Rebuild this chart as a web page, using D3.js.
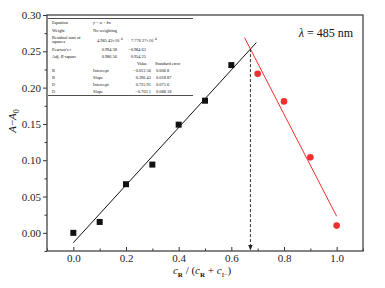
<!DOCTYPE html>
<html>
<head>
<meta charset="utf-8" />
<title>Job plot</title>
<script src="https://d3js.org/d3.v7.min.js"></script>
<style>
  body { margin: 0; background: #fff; }
  svg, svg text { font-family: "Liberation Serif", "Times New Roman", serif; }
</style>
</head>
<body>
<svg></svg>
<script>
// data
const xB = [0, 0.1, 0.2, 0.3, 0.4, 0.5, 0.6];
const yB = [0.0, 0.015, 0.067, 0.094, 0.149, 0.182, 0.231];
const xD = [0.7, 0.8, 0.9, 1.0];
const yD = [0.219, 0.181, 0.104, 0.01];
const fitB = [-0.01356, 0.39643];   // intercept, slope
const fitD = [0.72591, -0.7031];
const xTicks = [0, 0.2, 0.4, 0.6, 0.8, 1.0];
const yTicks = [0, 0.05, 0.10, 0.15, 0.20, 0.25, 0.30];

const W = 385, H = 288;
const pL = 47, pR = 363, pT = 15, pB = 251;

const svg = d3.select("svg").attr("width", W).attr("height", H);

const x = d3.scaleLinear().domain([-0.1, 1.1]).range([pL, pR]);
const y = d3.scaleLinear().domain([-0.025, 0.30]).range([pB, pT]);

// axes
const yAx = svg.append("g").attr("transform", `translate(${pL},0)`)
  .call(d3.axisLeft(y).tickValues(yTicks).tickFormat(d3.format(".2f")).tickSize(4).tickPadding(2));
const yMinor = svg.append("g").attr("transform", `translate(${pL},0)`)
  .call(d3.axisLeft(y).tickValues(d3.range(-0.025, 0.30, 0.05)).tickFormat("").tickSize(2.5));
const xAx = svg.append("g").attr("transform", `translate(0,${pB})`)
  .call(d3.axisBottom(x).tickValues(xTicks).tickFormat(d3.format(".1f")).tickSize(-4).tickPadding(3));
const xMinor = svg.append("g").attr("transform", `translate(0,${pB})`)
  .call(d3.axisBottom(x).tickValues(d3.range(-0.1, 1.1, 0.2)).tickFormat("").tickSize(-2.5));

[yAx, yMinor, xAx, xMinor].forEach(g => {
  g.attr("font-family", null).attr("font-size", null);
  g.select(".domain").remove();
  g.selectAll("line").attr("stroke", "#333");
  g.selectAll("text").attr("font-size", 11).attr("fill", "#222");
});

// frame
svg.append("rect").attr("x", pL).attr("y", pT)
  .attr("width", pR - pL).attr("height", pB - pT)
  .attr("fill", "none").attr("stroke", "#444").attr("stroke-width", 1.3);

// fit lines
const lineFn = d3.line().x(d => x(d[0])).y(d => y(d[1]));
svg.append("path")
  .datum([0, 0.695].map(v => [v, fitB[0] + fitB[1] * v]))
  .attr("d", lineFn).attr("stroke", "#111").attr("stroke-width", 1).attr("fill", "none");
svg.append("path")
  .datum([0.65, 1.0].map(v => [v, fitD[0] + fitD[1] * v]))
  .attr("d", lineFn).attr("stroke", "#f0302e").attr("stroke-width", 1).attr("fill", "none");

// intersection marker (dashed drop line with arrow)
const xi = (fitD[0] - fitB[0]) / (fitB[1] - fitD[1]);
const yi = fitB[0] + fitB[1] * xi;
svg.append("line")
  .attr("x1", x(xi)).attr("x2", x(xi)).attr("y1", y(yi)).attr("y2", pB - 5)
  .attr("stroke", "#333").attr("stroke-width", 1).attr("stroke-dasharray", "3,2");
svg.append("path")
  .attr("d", `M${x(xi) - 2.2},${pB - 6}L${x(xi) + 2.2},${pB - 6}L${x(xi)},${pB - 0.5}Z`)
  .attr("fill", "#222");

// markers
svg.selectAll("rect.b").data(xB).enter().append("rect").attr("class", "b")
  .attr("x", (d) => x(d) - 3).attr("y", (d, i) => y(yB[i]) - 3)
  .attr("width", 6).attr("height", 6).attr("fill", "#111");
svg.selectAll("circle.d").data(xD).enter().append("circle").attr("class", "d")
  .attr("cx", d => x(d)).attr("cy", (d, i) => y(yD[i]))
  .attr("r", 3.3).attr("fill", "#f0302e");

// lambda label
const lam = svg.append("text").attr("x", 353).attr("y", 37)
  .attr("text-anchor", "end").attr("font-size", 12).attr("fill", "#111");
lam.append("tspan").attr("font-style", "italic").text("λ");
lam.append("tspan").text(" = 485 nm");

// axis titles
const yl = svg.append("text")
  .attr("transform", `translate(16,121) rotate(-90)`)
  .attr("text-anchor", "middle").attr("font-size", 11).attr("fill", "#111");
yl.append("tspan").attr("font-style", "italic").text("A");
yl.append("tspan").text("−");
yl.append("tspan").attr("font-style", "italic").text("A");
yl.append("tspan").attr("font-size", 8).attr("dy", 3).text("0");

const xl = svg.append("text").attr("x", 202).attr("y", 274)
  .attr("text-anchor", "middle").attr("font-size", 11).attr("fill", "#111");
xl.append("tspan").attr("font-style", "italic").text("c");
xl.append("tspan").attr("font-size", 7).attr("font-weight", "bold").attr("dy", 2.5).text("R");
xl.append("tspan").attr("dy", -2.5).text(" / (");
xl.append("tspan").attr("font-style", "italic").text("c");
xl.append("tspan").attr("font-size", 7).attr("font-weight", "bold").attr("dy", 2.5).text("R");
xl.append("tspan").attr("dy", -2.5).text(" + ");
xl.append("tspan").attr("font-style", "italic").text("c");
xl.append("tspan").attr("font-size", 7).attr("dy", 2.5).text("I");
xl.append("tspan").attr("font-size", 6).attr("dy", -1).text("−");
xl.append("tspan").attr("dy", -1.5).text(")");

// fit result table
const tbl = svg.append("g").attr("font-size", 4.4).attr("fill", "#111");
tbl.append("line").attr("x1", 48).attr("x2", 193).attr("y1", 18.5).attr("y2", 18.5)
  .attr("stroke", "#222").attr("stroke-width", 0.8);
tbl.append("line").attr("x1", 48).attr("x2", 193).attr("y1", 95.5).attr("y2", 95.5)
  .attr("stroke", "#222").attr("stroke-width", 0.8);

function cell(tx, ty, s, anchor) {
  return tbl.append("text").attr("x", tx).attr("y", ty)
    .attr("text-anchor", anchor || "start").text(s);
}
cell(52, 24, "Equation");
const eq = tbl.append("text").attr("x", 93).attr("y", 24);
eq.append("tspan").attr("font-style", "italic").text("y");
eq.append("tspan").text(" = ");
eq.append("tspan").attr("font-style", "italic").text("a");
eq.append("tspan").text(" + ");
eq.append("tspan").attr("font-style", "italic").text("bx");
cell(52, 31.5, "Weight");
cell(93, 31.5, "No weighting");
cell(52, 38.5, "Residual sum of");
cell(52, 42.8, "squares");
function sci(tx, ty, m) {
  const t = tbl.append("text").attr("x", tx).attr("y", ty);
  t.append("tspan").text(m + "×10");
  t.append("tspan").attr("font-size", 3.2).attr("dy", -1.8).text("−4");
}
sci(97, 41.5, "4.985 43");
sci(131, 41.5, "7.776 27");
const pr = tbl.append("text").attr("x", 52).attr("y", 50.5);
pr.append("tspan").text("Pearson's ");
pr.append("tspan").attr("font-style", "italic").text("r");
cell(117, 50.5, "0.994 38", "end");
cell(146, 50.5, "−0.984 63", "end");
const ar = tbl.append("text").attr("x", 52).attr("y", 57.5);
ar.append("tspan").text("Adj. ");
ar.append("tspan").attr("font-style", "italic").text("R");
ar.append("tspan").text("-square");
cell(117, 57.5, "0.986 56", "end");
cell(146, 57.5, "0.954 25", "end");
cell(137, 64.5, "Value");
cell(155, 64.5, "Standard error");

const series = ["B", "B", "D", "D"];
const params = ["Intercept", "Slope", "Intercept", "Slope"];
const values = ["−0.013 56", "0.396 43", "0.725 91", "−0.703 1"];
const errors = ["0.006 8", "0.018 87", "0.075 6", "0.088 18"];
series.forEach((s, i) => {
  const ty = 71.5 + i * 7;
  cell(52, ty, s);
  cell(93, ty, params[i]);
  cell(151, ty, values[i], "end");
  cell(156, ty, errors[i]);
});
</script>
</body>
</html>
